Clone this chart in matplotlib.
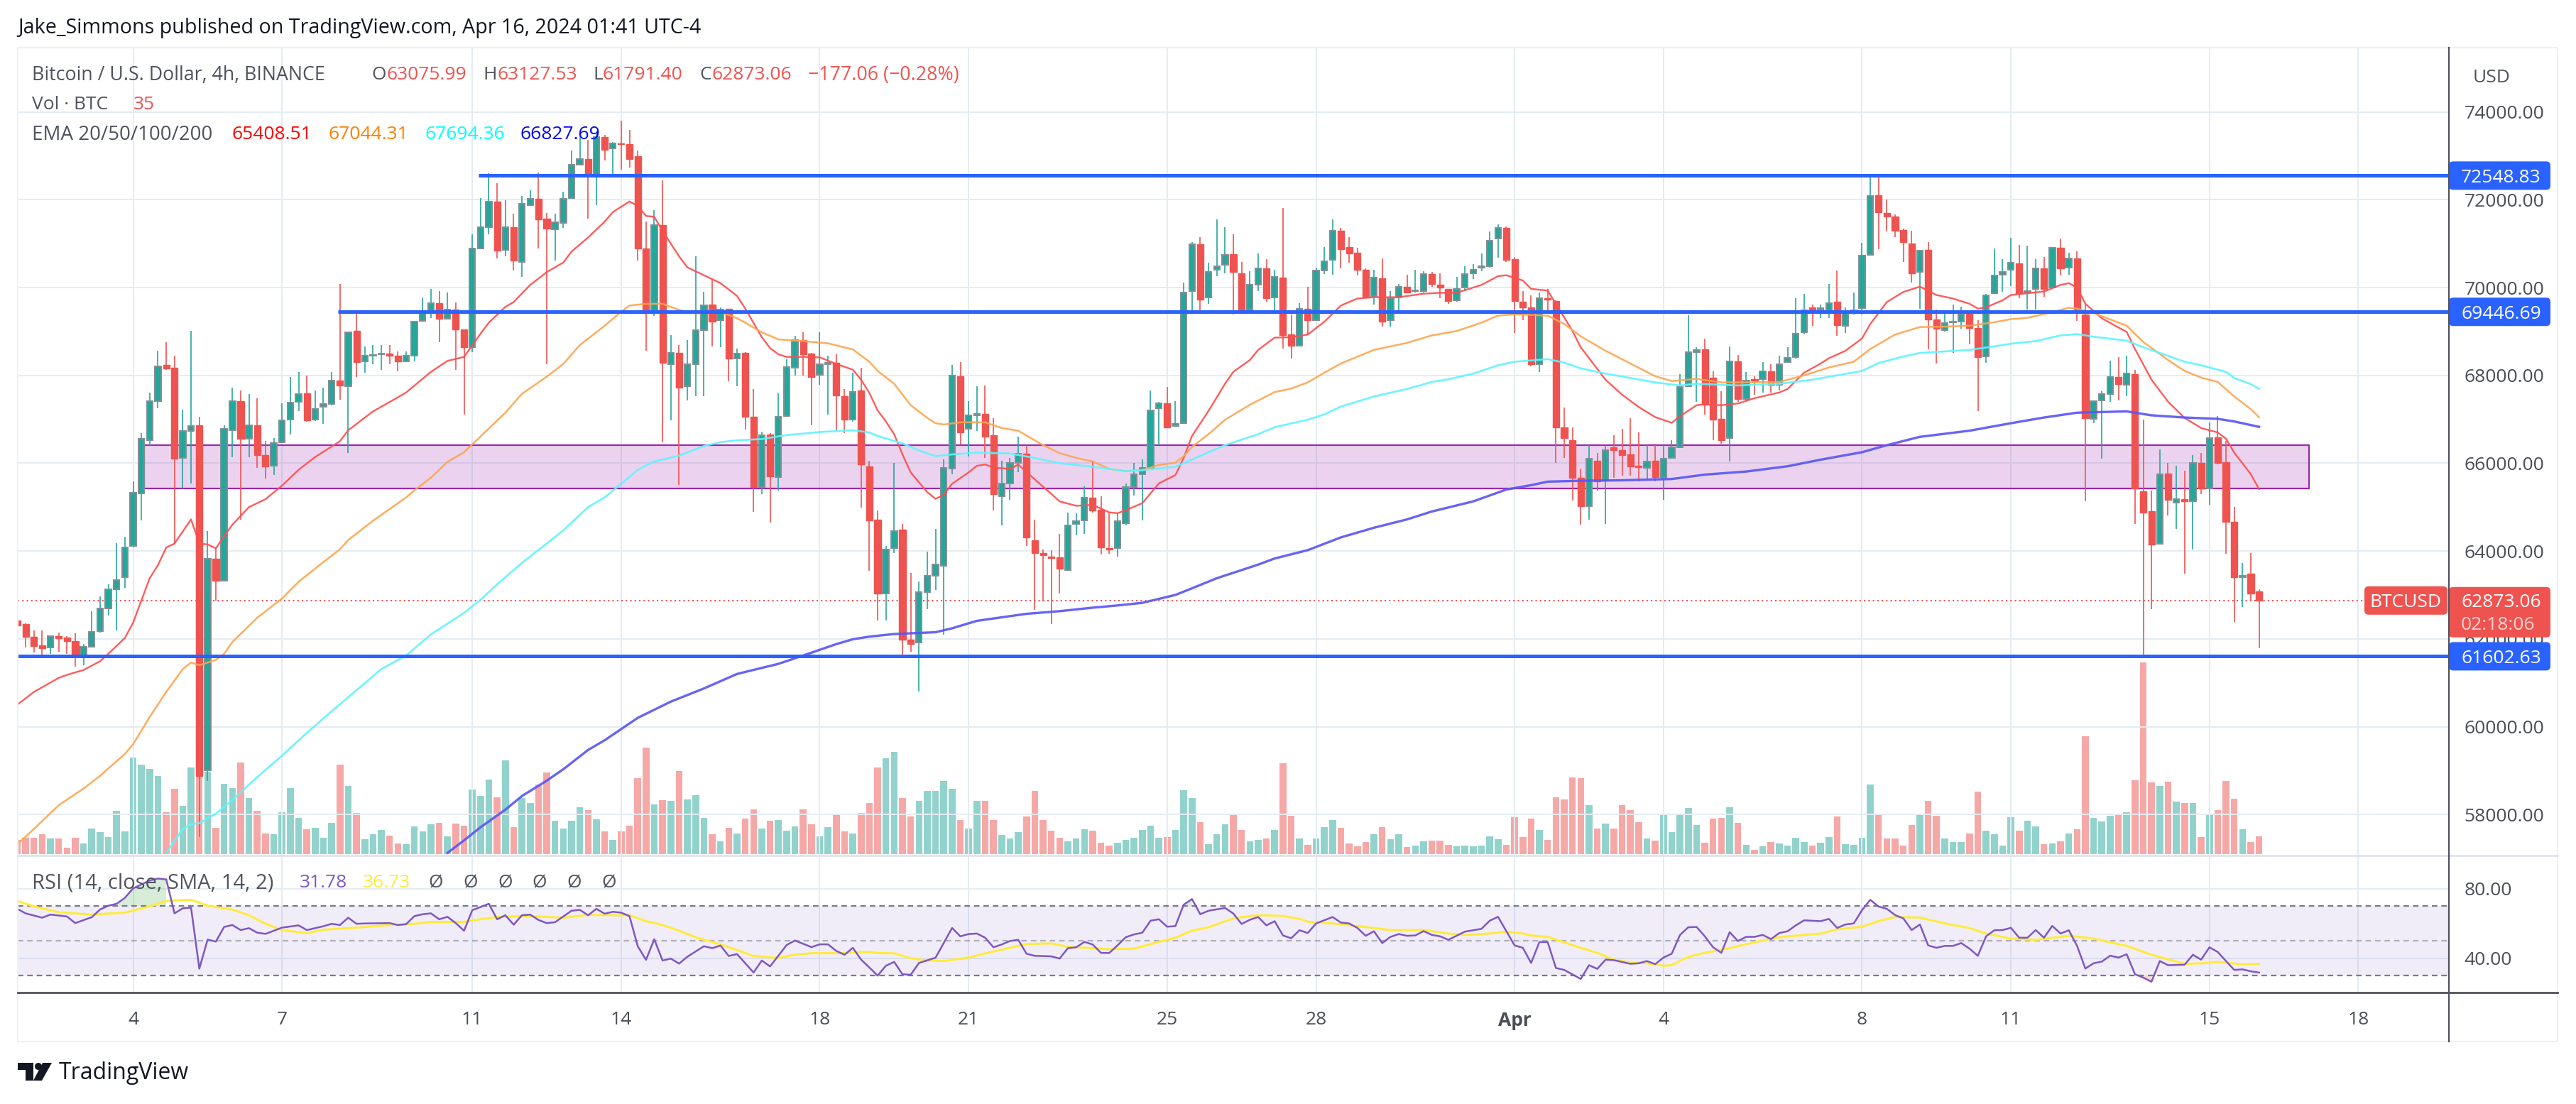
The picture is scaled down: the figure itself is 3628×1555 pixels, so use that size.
import numpy as np
import matplotlib.pyplot as plt
from matplotlib.patches import FancyBboxPatch, Rectangle, Polygon, Circle
from matplotlib.transforms import IdentityTransform

W, H = 3628, 1555  # 圖片大小
plt.rcParams['font.family'] = ['Open Sans', 'DejaVu Sans']

# K 線資料 (開, 高, 低, 收), 第 0 根為 3 月 4 日
ohlc = np.array([
    [62410,62420,62100,62300],[62340,62350,61800,62040],[62040,62190,61690,61840],[61850,62190,61560,61780],
    [61800,62080,61665,62060],[62060,62150,61710,62010],[62030,62060,61665,61945],[61945,62120,61360,61595],
    [61600,61890,61400,61820],[61820,62630,61820,62160],[62170,62960,62150,62700],[62690,63240,62530,63130],
    [63130,64180,62190,63340],[63400,64320,63160,64090],[64120,65580,64080,65320],[65310,66680,64690,66550],
    [66530,67600,66400,67420],[67420,68560,67250,68200],[68230,68750,68120,68150],[68170,68440,64150,66100],
    [66120,67220,65420,66730],[66730,69020,65530,66850],[66860,67050,57490,58870],[59000,64450,58770,63830],
    [63830,64080,62870,63330],[63330,66860,63330,66790],[66750,67720,66140,67410],[67410,67650,64710,66550],
    [66560,67580,66140,66870],[66860,67480,65890,66190],[66190,66500,65650,65920],[65940,66570,65730,66460],
    [66470,67360,66460,66980],[67000,67970,66660,67380],[67400,68080,67180,67580],[67590,67990,66950,66980],
    [66990,67650,66960,67230],[67280,67720,66890,67350],[67350,68080,67320,67880],[67880,70080,67450,67770],
    [67760,68980,66230,68980],[69020,69470,67970,68300],[68320,68660,68060,68440],[68450,68690,68260,68470],
    [68480,68690,68130,68500],[68490,68690,68260,68450],[68450,68550,68090,68320],[68320,68550,68300,68440],
    [68450,69220,68320,69220],[69240,69750,69230,69450],[69470,69970,69300,69640],[69650,69920,68750,69290],
    [69290,69880,69270,69500],[69500,69660,68130,69040],[69040,69040,67110,68640],[68640,71210,68530,70890],
    [70890,72040,70890,71370],[71370,72600,71210,71950],[71950,72380,70670,70840],[70850,71990,70710,71380],
    [71380,71680,70390,70620],[70590,72090,70240,71900],[71880,72220,71860,72020],[72020,72620,70890,71550],
    [71570,71700,68260,71340],[71330,71680,70620,71490],[71470,72190,71360,72020],[72040,73120,72020,72790],
    [72800,73550,72800,72920],[72920,73370,71570,72570],[72550,73550,71870,73420],[73420,73480,72900,73140],
    [73170,73320,72580,73290],[73290,73800,72690,73270],[73260,73590,72730,72930],[72990,73120,70620,70890],
    [70890,71500,68560,69410],[69430,71770,69350,71420],[71420,72440,66480,68280],[68260,68920,66980,68510],
    [68510,68690,65510,67720],[67750,68800,67430,68250],[68260,70710,67530,69030],[69030,69900,67530,69600],
    [69610,70170,68660,69220],[69250,69540,68640,69500],[69520,69520,67860,68380],[68380,68610,67760,68500],
    [68510,68530,66760,67060],[67060,67690,64890,65450],[65450,66710,65300,66630],[66660,66690,64650,65700],
    [65680,67590,65380,67060],[67070,68370,67050,68190],[68180,68900,68000,68800],[68800,68980,68000,68480],
    [68490,68510,66860,67970],[68010,68980,67790,68260],[68250,68440,67100,68280],[68280,68480,66750,67540],
    [67530,67680,66680,67000],[66990,68060,66950,67630],[67660,68170,64980,65970],[65930,66060,63550,64700],
    [64710,64930,62410,63030],[63030,64120,62410,64040],[64060,66000,63960,64450],[64490,64620,61570,61980],
    [61980,63500,61710,61890],[61910,63300,60800,63070],[63070,63990,62670,63430],[63430,64510,63110,63690],
    [63670,66080,62100,65900],[65870,68240,65750,67990],[67980,68310,66430,66700],[66780,67420,66160,67090],
    [67090,67750,66740,67130],[67130,67770,66120,66600],[66640,67030,64930,65300],[65250,66050,64580,65540],
    [65540,66120,65170,66000],[66000,66600,65790,66220],[66220,66410,64120,64310],[64250,64720,62660,63960],
    [63960,64040,62860,63910],[63880,64020,62340,63840],[63860,64390,63030,63590],[63570,64880,63550,64580],
    [64620,64860,64350,64680],[64690,65480,64390,65210],[65220,66050,64870,64930],[64940,65250,63920,64080],
    [64060,64880,63930,64030],[64070,64840,63870,64680],[64640,65540,64590,65450],[65460,66000,65270,65740],
    [65750,66080,64700,65890],[65900,67650,65890,67210],[67250,67400,66410,67360],[67360,67730,66800,66820],
    [66840,67420,66830,66890],[66920,70110,66900,69880],[69920,71030,69480,70990],[70990,71140,69490,69730],
    [69780,70560,69630,70350],[70410,71550,70260,70490],[70520,71380,70330,70750],[70760,71220,69380,70350],
    [70330,70580,69460,69480],[69500,70370,69440,70060],[70060,70780,69920,70440],[70440,70650,69670,69750],
    [69770,70410,69490,70250],[70230,71810,68610,68910],[68930,69380,68390,68680],[68680,69650,68660,69520],
    [69520,70020,68910,69260],[69260,70450,69240,70390],[70390,70920,70310,70600],[70630,71550,70290,71300],
    [71300,71360,70440,70870],[70920,71150,70560,70770],[70800,70910,70270,70410],[70410,70430,69770,69790],
    [69810,70410,69620,70220],[70210,70660,69110,69230],[69260,69920,69110,69750],[69770,70080,69420,70020],
    [70020,70290,69870,69890],[69920,70410,69880,69940],[69920,70370,69880,70300],[70310,70350,70020,70080],
    [70060,70330,69750,70000],[69970,69970,69630,69690],[69710,70250,69680,69960],[70000,70490,69920,70300],
    [70330,70530,70200,70410],[70460,70780,70370,70490],[70480,71280,70450,71060],[71110,71440,70680,71360],
    [71360,71390,70590,70630],[70640,70700,68970,69690],[69670,69920,69260,69550],[69550,69830,68200,68250],
    [68250,69880,68080,69750],[69750,69960,69420,69730],[69690,69710,66000,66820],[66810,67260,66120,66580],
    [66520,66820,65150,65670],[65670,65870,64600,65020],[65020,66410,64720,66100],[66060,66240,65380,65590],
    [65600,66410,64620,66300],[66370,66640,65670,66290],[66290,66780,65710,66180],[66200,67030,65710,65930],
    [65940,66700,65590,65910],[65890,66410,65610,66040],[66050,66450,65590,65680],[65670,66410,65170,66110],
    [66120,66530,66100,66370],[66370,68020,66350,67730],[67750,69370,67730,68530],[68530,68640,67400,68580],
    [68590,68840,67100,67340],[67950,68100,66520,66990],[67010,67640,66450,66520],[66580,68660,66040,68320],
    [68320,68470,67400,67460],[67460,68070,67400,67890],[67920,67980,67560,67890],[67920,68300,67610,68090],
    [68100,68250,67610,67780],[67790,68450,67650,68250],[68300,68640,68280,68400],[68410,69750,68390,68950],
    [68980,69860,68930,69490],[69550,69610,69130,69450],[69500,69620,69310,69530],[69490,70080,69300,69640],
    [69670,70390,68900,69140],[69120,69550,68960,69420],[69420,69880,69390,69490],[69530,71020,69380,70720],
    [70740,72560,70720,72090],[72110,72520,70870,71720],[71700,72000,71280,71610],[71620,71670,71140,71300],
    [71310,71340,70580,71030],[71010,71300,70120,70330],[70350,70840,69520,70840],[70850,71030,68600,69280],
    [69280,69500,68270,69070],[69030,69490,68990,69190],[69200,69610,68510,69220],[69220,69570,69070,69400],
    [69400,69460,68700,69080],[69080,69260,67190,68410],[68430,69850,68280,69830],[69870,70890,69850,70280],
    [70290,70640,69900,70360],[70410,71130,70040,70560],[70550,70970,69750,69870],[69880,70950,69500,69920],
    [69960,70640,69500,70440],[70440,70700,69790,69970],[70000,70910,69970,70900],[70900,71110,70270,70440],
    [70460,70800,70290,70660],[70660,70820,69240,69420],[69380,69630,65130,67030],[67010,67430,66920,67420],
    [67430,67640,66100,67570],[67570,68330,67400,67970],[67960,68420,67430,67800],[67790,68450,67520,68040],
    [68020,68120,64610,65430],[65360,66990,61600,64870],[64900,65380,62670,64140],[64160,66310,64140,65750],
    [65770,66000,64810,65160],[65100,65940,64510,65190],[65190,65830,63490,65140],[65130,66190,64040,66000],
    [66000,66240,65300,65420],[65420,66930,65050,66570],[66590,67070,65970,66000],[66020,66500,63930,64670],
    [64670,65010,62390,63400],[63400,63730,62720,63430],[63490,63960,62850,63030],[63075.99,63127.53,61791.40,62873.06],
])
volume = [20,23,23,28,22,22,9,23,15,36,31,24,61,32,136,126,120,110,59,92,68,122,126,116,37,99,93,129,79,61,29,28,59,93,51,35,37,23,44,126,
    96,58,21,28,34,26,15,14,39,32,42,44,25,43,40,91,82,105,80,132,38,79,72,98,115,47,36,47,66,62,49,32,20,32,40,107,150,70,76,75,
    117,77,83,51,28,18,37,29,50,63,36,47,48,33,39,63,42,25,38,56,32,29,58,72,122,135,144,79,53,75,89,89,103,92,48,36,75,75,48,27,
    22,31,53,89,48,33,23,18,22,35,33,16,12,16,20,23,34,40,23,24,34,90,79,45,14,28,42,57,34,18,20,22,34,128,54,22,13,22,38,48,
    37,15,11,17,28,38,21,28,10,12,18,19,19,13,11,12,11,12,25,21,13,52,24,50,34,20,80,77,108,107,69,36,43,36,69,62,45,22,19,55,
    31,57,65,41,16,50,51,66,44,13,6,11,17,15,12,23,17,12,16,24,53,14,13,23,98,57,22,22,12,41,56,75,54,22,17,17,29,88,33,28,
    12,52,33,47,39,14,15,18,29,35,166,51,46,54,57,59,104,270,101,96,102,74,72,72,24,55,62,103,78,35,17,25]

# 均線 (根數, 價格)
ema20 = [(-14,60500),(-12,60790),(-9,61110),(-8,61180),(-6,61290),(-4,61490),(-3,61660),(-1,62020),(0,62370),(2,63380),(3,63680),(4,64080),(5,64170),(7,64720),(8,64170),(9,64150),(10,64060),(11,64340),(12,64600),(14,65000),(16,65180),(18,65490),(20,65850),(22,66140),(25,66500),(26,66750),(29,67180),(32,67500),(33,67610),(36,68080),(38,68330),(40,68420),(42,68950),(43,69200),(45,69560),(46,69670),(48,70060),(50,70350),(52,70570),(53,70820),(55,71140),(57,71500),(58,71720),(60,71960),(61,71860),(62,71630),(63,71610),(64,71290),(66,70710),(67,70460),(69,70280),(71,70100),(73,69810),(74,69520),(76,68870),(77,68620),(78,68480),(79,68420),(81,68420),(83,68410),(85,68260),(87,68130),(88,67900),(89,67600),(90,67200),(91,66950),(92,66660),(93,66200),(94,65790),(96,65340),(97,65190),(98,65280),(99,65530),(101,65790),(102,65940),(103,65970),(104,65900),(106,65870),(107,65970),(109,65630),(111,65300),(112,65130),(114,65030),(116,65050),(118,64880),(119,64860),(120,64930),(122,65090),(124,65540),(126,65730),(127,66120),(128,66620),(130,67190),(132,67810),(133,68080),(135,68350),(136,68580),(138,68860),(140,68870),(142,68930),(144,69220),(146,69590),(148,69750),(150,69780),(153,69780),(156,69860),(158,69880),(160,69880),(163,70060),(165,70260),(166,70280),(168,70160),(169,69970),(171,69930),(172,69630),(174,69010),(175,68640),(178,67900),(180,67560),(182,67280),(184,67050),(186,66920),(187,67070),(189,67320),(190,67340),(192,67320),(194,67360),(196,67480),(199,67610),(200,67690),(202,68060),(204,68270),(205,68390),(207,68560),(209,68840),(210,69170),(212,69670),(214,69900),(215,69960),(216,70020),(218,69830),(220,69750),(222,69630),(223,69520),(224,69550),(226,69710),(227,69830),(229,69870),(231,69910),(233,70060),(234,70100),(235,70000),(236,69630),(238,69300),(240,69090),(241,68990),(242,68600),(244,67900),(246,67400),(248,67030),(250,66800),(252,66700),(253,66560),(254,66240),(256,65750),(257,65408.51)]
ema50 = [(-14,57320),(-12,57670),(-9,58210),(-6,58590),(-4,58880),(-1,59380),(0,59600),(2,60220),(4,60790),(6,61310),(7,61460),(8,61400),(10,61520),(11,61660),(12,61930),(15,62480),(18,62920),(20,63300),(22,63600),(25,64040),(26,64250),(29,64690),(33,65220),(34,65380),(36,65670),(38,66030),(40,66250),(42,66610),(45,67150),(47,67580),(50,67970),(52,68260),(54,68690),(57,69130),(59,69450),(60,69590),(62,69630),(64,69630),(66,69490),(68,69410),(71,69450),(73,69300),(74,69200),(76,68980),(78,68820),(81,68780),(84,68730),(87,68590),(89,68310),(90,68100),(92,67810),(94,67320),(96,67030),(97,66910),(98,66880),(100,66930),(103,66930),(105,66800),(107,66740),(110,66410),(112,66230),(114,66120),(116,66040),(118,65870),(120,65820),(122,65840),(124,65960),(126,66010),(127,66160),(128,66370),(130,66660),(132,66990),(135,67330),(138,67620),(140,67700),(142,67840),(144,68060),(146,68270),(150,68580),(154,68740),(157,68910),(160,69010),(163,69200),(165,69360),(167,69390),(171,69360),(173,69170),(175,68890),(178,68560),(181,68270),(184,67980),(186,67870),(189,67920),(192,67840),(195,67840),(199,67850),(202,68000),(205,68180),(208,68310),(210,68600),(213,68930),(216,69100),(219,69110),(222,69130),(225,69210),(227,69280),(229,69310),(232,69440),(234,69540),(235,69520),(237,69420),(241,69130),(243,68760),(246,68350),(248,68100),(250,67950),(252,67850),(254,67520),(256,67230),(257,67044.31)]
ema100 = [(4,57125),(6,57670),(7,57780),(8,57800),(10,58020),(12,58330),(15,58850),(18,59340),(21,59860),(24,60350),(27,60830),(30,61310),(33,61620),(36,62100),(40,62590),(42,62890),(44,63240),(47,63730),(50,64170),(52,64470),(55,65000),(57,65220),(59,65530),(61,65850),(63,66040),(66,66170),(69,66390),(71,66480),(73,66520),(76,66550),(79,66640),(83,66710),(87,66750),(89,66700),(90,66620),(93,66450),(95,66290),(97,66160),(99,66200),(102,66240),(106,66220),(109,66120),(112,66000),(116,65920),(120,65820),(122,65840),(126,65920),(128,66080),(130,66250),(132,66410),(136,66660),(138,66820),(142,66990),(144,67110),(146,67290),(150,67520),(154,67690),(157,67850),(159,67910),(162,68040),(165,68230),(167,68310),(171,68370),(173,68290),(175,68160),(178,68040),(181,67940),(184,67840),(187,67770),(189,67810),(194,67770),(199,67810),(203,67900),(206,68000),(209,68100),(211,68280),(214,68430),(216,68510),(222,68580),(225,68660),(227,68720),(230,68780),(233,68910),(235,68940),(237,68880),(241,68790),(243,68640),(245,68510),(248,68310),(250,68230),(253,68080),(254,67940),(256,67800),(257,67694.36)]
ema200 = [(38,57125),(40,57410),(42,57710),(45,58110),(47,58420),(50,58770),(52,59030),(55,59470),(57,59690),(61,60200),(65,60570),(69,60870),(73,61200),(78,61430),(81,61620),(85,61880),(87,61990),(89,62050),(92,62110),(97,62150),(99,62240),(102,62410),(105,62490),(108,62570),(112,62630),(116,62710),(119,62760),(122,62820),(126,63000),(128,63150),(131,63380),(136,63690),(138,63830),(142,64020),(146,64310),(150,64530),(154,64720),(157,64900),(162,65130),(166,65400),(169,65500),(171,65580),(175,65600),(180,65610),(186,65640),(190,65740),(195,65810),(200,65930),(204,66080),(209,66250),(212,66410),(216,66600),(222,66740),(227,66910),(231,67040),(235,67150),(241,67180),(244,67090),(248,67040),(252,67010),(254,66950),(257,66827.69)]

# RSI 與其均線
rsi = [(-14,68.4),(-13,65.8),(-11,63.3),(-10,65.1),(-8,64),(-7,60.2),(-5,63.6),(-4,68),(-3,70.2),(-2,71.3),(-1,74.7),(0,80.2),(1,82.4),(2,84.7),(3,85.8),(4,85.3),(5,65.8),(6,68.7),(7,69.1),(8,34),(9,50.7),(10,49.6),(11,58),(12,59.1),(13,56.2),(14,57.3),(15,54.7),(16,54),(17,55.8),(18,57.6),(20,58.9),(21,56.2),(23,58.4),(24,59.8),(25,59.1),(26,63.3),(27,59.8),(28,60),(31,60.2),(32,59.1),(33,59.6),(34,64.2),(35,65.3),(36,65.8),(37,62.4),(38,63.8),(39,60.2),(40,55.8),(41,67.6),(43,71.3),(44,62.4),(45,64.7),(46,59.3),(47,64.7),(48,65.1),(49,62),(50,60.2),(51,60.7),(53,67.3),(54,67.8),(55,64.7),(56,68.4),(57,65.6),(58,66.7),(59,66.2),(60,64.2),(61,46.9),(62,39.1),(63,50.9),(64,38.7),(65,39.8),(66,36.9),(67,40.9),(69,46.9),(70,45.8),(71,47.3),(72,41.3),(73,42.4),(75,31.8),(76,38.7),(77,35.3),(79,47.6),(80,50.2),(82,46.4),(83,48),(84,48),(85,44.2),(86,42),(87,46),(88,39.2),(89,34.7),(90,30),(91,35.7),(92,37.9),(93,30.8),(94,30.5),(95,37.3),(97,40.3),(99,57.4),(100,52.6),(101,53.9),(102,54.2),(103,51.8),(104,46.3),(105,47.9),(106,49.9),(107,50.6),(108,42.6),(109,41.4),(111,41.1),(112,39.8),(113,45.8),(114,46.3),(115,49.4),(116,47.9),(117,43.1),(118,43),(119,47.4),(120,52.1),(121,53.7),(122,54.7),(123,61.6),(124,62.4),(125,58.1),(126,58.5),(127,70.8),(128,74),(129,65.3),(130,67.3),(132,68.9),(133,65.7),(134,59.7),(135,62.1),(136,63.7),(137,58.9),(138,61.3),(139,53.1),(140,51.5),(141,56.1),(142,54.5),(143,60),(145,63.7),(146,60.5),(147,60),(148,57.4),(149,52.9),(150,55.5),(151,48.7),(152,52.3),(153,53.9),(154,52.9),(155,53.1),(156,55.6),(157,53.4),(158,52.6),(159,50.6),(161,55.3),(163,56.9),(164,61.6),(165,63.8),(167,47.4),(168,46),(169,37.3),(170,49.3),(171,49.3),(172,34.4),(173,33.3),(175,28.1),(176,36),(177,33.9),(178,39.2),(179,38.9),(181,36.8),(182,37.1),(183,38.4),(184,36.6),(185,40.4),(186,42.6),(187,53.4),(188,57.8),(189,58),(190,52.6),(191,46.3),(192,43.1),(193,55),(194,49.9),(195,52.3),(196,52.3),(197,53.4),(198,51),(199,54.5),(200,55.5),(201,58.9),(202,61.8),(204,61.3),(205,62.6),(206,57.4),(207,59.4),(208,60),(209,67.6),(210,73.6),(211,69.7),(212,68.4),(213,64.8),(214,62.9),(215,56.2),(216,59.4),(217,47.4),(218,46),(219,47.1),(220,47.1),(221,48.7),(222,45.5),(223,41.4),(224,52.6),(225,56.1),(226,56.2),(227,57.5),(228,51.8),(229,51.8),(230,56.2),(231,51.8),(232,58.6),(233,54.2),(234,56.1),(235,47.1),(236,34.1),(237,37.1),(238,38.1),(239,41.5),(240,40.4),(241,42.3),(242,30.8),(243,28.9),(244,26.5),(245,38.4),(246,36),(248,36.3),(249,42),(250,39.2),(251,46.3),(252,43.6),(253,38.4),(254,33.3),(255,33.6),(256,32.5),(257,31.78)]
rsi_sma = [(-14,73),(-12,69.8),(-9,66.4),(-5,65.1),(-1,66.2),(2,69.8),(4,72.9),(7,73.6),(9,70.2),(12,68),(14,64.7),(16,59.8),(18,56.2),(21,54.4),(23,56.4),(27,57.6),(31,59.1),(34,59.8),(36,60.9),(40,60.9),(42,62.4),(44,63.8),(48,64.2),(52,63.3),(55,64.9),(60,64.7),(62,61.3),(64,59.1),(66,55.8),(68,52),(71,48),(73,44.7),(75,41.3),(78,40.2),(80,42),(82,42.9),(86,42.9),(87,43.4),(89,43.6),(90,43),(92,42.8),(94,40),(96,38.7),(98,38.4),(101,40.4),(104,43.9),(106,46),(108,48.2),(111,48.5),(113,46.6),(116,45.8),(118,45.2),(121,45.5),(124,49.4),(126,51.8),(128,55.8),(130,57.8),(133,62.9),(136,64.8),(139,64.3),(141,62.6),(142,61),(145,60),(148,58.5),(152,56.2),(156,56.2),(159,54.2),(161,53.4),(164,54.2),(166,55.3),(168,54.2),(169,53.1),(171,52.3),(175,46),(177,43.1),(179,39.2),(181,37.6),(183,37.1),(185,35.7),(186,36),(188,40.8),(190,43.1),(193,45.8),(197,50.2),(199,52.1),(202,53.4),(204,54.2),(206,56.6),(209,58.1),(211,61.3),(213,63.7),(216,63.4),(219,60),(222,57.4),(224,54.2),(227,51.3),(230,50.6),(233,52.3),(234,52.9),(237,51.3),(241,47.1),(244,42),(248,36.8),(250,37.1),(252,37.9),(255,36.5),(257,36.73)]

# 日期刻度
date_pos = [0, 18, 41, 59, 83, 101, 125, 143, 167, 185, 209, 227, 251, 269]
date_txt = ['4', '7', '11', '14', '18', '21', '25', '28', 'Apr', '4', '8', '11', '15', '18']

x = np.arange(-14, 258)
o, h, l, c = ohlc.T
up = c >= o
GREEN, RED, GRID = '#26a69a', '#ef5350', '#e4ecf2'
LEFT, RIGHT, TOP, MID, BOT = 25, 3449, 67, 1204.6, 1398
XLIM = (-13.95, 279.95)

plt.figure(figsize=(W / 100, H / 100), dpi=100)

# 成交量
plt.axes([LEFT / W, 1 - MID / H, (RIGHT - LEFT) / W, (MID - TOP) / H])
plt.bar(x[up], np.array(volume)[up], width=0.82, color=GREEN, alpha=0.5, zorder=2)
plt.bar(x[~up], np.array(volume)[~up], width=0.82, color=RED, alpha=0.5, zorder=2)
plt.xlim(XLIM)
plt.ylim(-1.6, MID - TOP - 1.6)
plt.axis('off')

# 主圖
ax = plt.axes([LEFT / W, 1 - MID / H, (RIGHT - LEFT) / W, (MID - TOP) / H], facecolor='none')
plt.vlines(date_pos, 50000, 80000, color=GRID, lw=1.4, zorder=0)
plt.axhspan(65430, 66410, xmin=(1.3 - XLIM[0]) / (XLIM[1] - XLIM[0]), xmax=(263 - XLIM[0]) / (XLIM[1] - XLIM[0]), fc='#9c27b0', alpha=0.2, lw=0, zorder=1)
plt.plot([1.3, 263, 263, 1.3, 1.3], [66410, 66410, 65430, 65430, 66410], color='#9c27b0', lw=1.6, zorder=2)
plt.axhline(62873.06, color=RED, lw=1.5, ls=(0, (1, 2)), zorder=2)
plt.vlines(x[up], l[up], h[up], color=GREEN, lw=1.2, zorder=3)
plt.vlines(x[~up], l[~up], h[~up], color=RED, lw=1.2, zorder=3)
plt.bar(x[up], (c - o)[up], bottom=o[up], width=0.72, color=GREEN, edgecolor='#7f8f95', lw=1.4, zorder=3.1)
plt.bar(x[~up], (c - o)[~up], bottom=o[~up], width=0.78, color=RED, edgecolor=RED, lw=1, zorder=3.1)
for line, col, lw in [(ema20, '#ff4d4d', 1.7), (ema50, '#ffa54f', 1.8), (ema100, '#5ff4ff', 1.9), (ema200, '#5a57f5', 2.4)]:
    px, py = zip(*line)
    plt.plot(px, py, color=col, lw=lw, alpha=0.92, zorder=4, solid_joinstyle='round')
# 支撐壓力線
plt.hlines([72548.83, 69446.69, 61602.63], [41.8, 24.8, XLIM[0]], XLIM[1], color='#2962ff', lw=3.6, zorder=5)
plt.xlim(XLIM)
plt.ylim(57072, 75465)
plt.xticks([])
plt.yticks(np.arange(58000, 74001, 2000), ['%d.00' % v for v in np.arange(58000, 74001, 2000)], fontsize=19, color='#4a4d55')
plt.tick_params(axis='y', left=False, right=False, labelleft=False, labelright=True, pad=12)
plt.grid(axis='y', color=GRID, lw=1.4, zorder=0)
ax.set_axisbelow(True)
for s in ax.spines.values():
    s.set_visible(False)

# 右側標籤
for price, label in [(72548.83, '72548.83'), (69446.69, '69446.69'), (61602.63, '61602.63')]:
    yp = ax.transData.transform((0, price))[1]
    ax.add_patch(FancyBboxPatch((RIGHT, yp - 20), 143, 40, boxstyle='round,pad=0,rounding_size=6', fc='#2962ff', ec='none', transform=IdentityTransform(), clip_on=False, zorder=6))
    plt.text(RIGHT + 17, yp, label, color='white', fontsize=19, va='center_baseline', transform=IdentityTransform(), zorder=7)
yp = ax.transData.transform((0, 62873.06))[1]
ax.add_patch(FancyBboxPatch((RIGHT, yp - 52), 143, 71, boxstyle='round,pad=0,rounding_size=6', fc=RED, ec='none', transform=IdentityTransform(), clip_on=False, zorder=6))
ax.add_patch(FancyBboxPatch((3330, yp - 20), 117, 40, boxstyle='round,pad=0,rounding_size=6', fc=RED, ec='none', transform=IdentityTransform(), clip_on=False, zorder=6))
plt.text(RIGHT + 17, yp, '62873.06', color='white', fontsize=19, va='center_baseline', transform=IdentityTransform(), zorder=7)
plt.text(RIGHT + 17, yp - 32, '02:18:06', color='#fbd3d2', fontsize=19, va='center_baseline', transform=IdentityTransform(), zorder=7)
plt.text(3388, yp, 'BTCUSD', color='white', fontsize=19, ha='center', va='center_baseline', transform=IdentityTransform(), zorder=7)

# RSI
ax2 = plt.axes([LEFT / W, 1 - BOT / H, (RIGHT - LEFT) / W, (BOT - MID) / H])
px, py = zip(*rsi)
px, py = np.array(px, dtype=float), np.array(py)
plt.vlines(date_pos, 0, 120, color=GRID, lw=1.4, zorder=0)
plt.axhspan(30, 70, fc='#7e57c2', alpha=0.1, lw=0, zorder=1)
plt.hlines([70, 30], XLIM[0], XLIM[1], color='#787b86', lw=1.6, ls=(0, (3.5, 2.5)), zorder=2)
plt.hlines(50, XLIM[0], XLIM[1], color='#787b86', alpha=0.55, lw=1.6, ls=(0, (3.5, 2.5)), zorder=2)
plt.fill_between(px, py, 70, where=py > 70, color='#4caf50', alpha=0.22, lw=0, zorder=2)
plt.fill_between(px, py, 30, where=py < 30, color=RED, alpha=0.2, lw=0, zorder=2)
plt.plot(px, py, color='#7e57c2', lw=1.8, zorder=4)
sx, sy = zip(*rsi_sma)
plt.plot(sx, sy, color='#ffeb3b', lw=2.2, zorder=3)
plt.xlim(XLIM)
plt.ylim(20.3, 99.2)
plt.yticks([40, 80], ['40.00', '80.00'], fontsize=19, color='#4a4d55')
plt.xticks(date_pos, date_txt, fontsize=19, color='#4a4d55')
ax2.get_xticklabels()[8].set_fontweight('bold')
plt.tick_params(axis='y', left=False, right=False, labelleft=False, labelright=True, pad=12)
plt.tick_params(axis='x', bottom=False, pad=15)
plt.grid(axis='y', color=GRID, lw=1.4, zorder=0)
ax2.set_axisbelow(True)
for s in ax2.spines.values():
    s.set_visible(False)

# 外框與分隔線
fig = plt.gcf()
fig.add_artist(Rectangle((LEFT, H - 1467), 3602 - LEFT, 1467 - TOP, fc='none', ec='#eef1f6', lw=1.6, transform=IdentityTransform()))
fig.add_artist(plt.Line2D([LEFT, 3602], [H - MID, H - MID], color='#e0e3eb', lw=2, transform=IdentityTransform()))
fig.add_artist(plt.Line2D([LEFT, 3602], [H - BOT, H - BOT], color='#50535e', lw=2, transform=IdentityTransform()))
fig.add_artist(plt.Line2D([RIGHT, RIGHT], [H - 67, H - 1467], color='#50535e', lw=1.6, transform=IdentityTransform()))

# 文字
DARK = '#50535e'
labels = [
    (25, 39, 'Jake_Simmons published on TradingView.com, Apr 16, 2024 01:41 UTC-4', '#131722', 20.6),
    (45, 106, 'Bitcoin / U.S. Dollar, 4h, BINANCE', DARK, 19.3),
    (523, 106, 'O', DARK, 19), (545, 106, '63075.99', RED, 19), (680, 106, 'H', DARK, 19), (700, 106, '63127.53', RED, 19),
    (835, 106, 'L', DARK, 19), (849, 106, '61791.40', RED, 19), (985, 106, 'C', DARK, 19), (1002, 106, '62873.06', RED, 19),
    (1138, 106, '\u2212177.06 (\u22120.28%)', RED, 19.3),
    (45, 147, 'Vol \u00b7 BTC', DARK, 19), (188, 147, '35', RED, 19),
    (45, 190, 'EMA 20/50/100/200', DARK, 20), (327, 190, '65408.51', '#ff0000', 19), (463, 190, '67044.31', '#ff8000', 19),
    (598, 190, '67694.36', '#00ffff', 19), (732, 190, '66827.69', '#0000ff', 19),
    (45, 1244, 'RSI (14, close, SMA, 14, 2)', DARK, 21), (422, 1244, '31.78', '#7e57c2', 19), (511, 1244, '36.73', '#ffeb3b', 19),
    (603, 1244, '\u00d8', DARK, 19), (652, 1244, '\u00d8', DARK, 19), (701, 1244, '\u00d8', DARK, 19),
    (749, 1244, '\u00d8', DARK, 19), (798, 1244, '\u00d8', DARK, 19), (847, 1244, '\u00d8', DARK, 19),
    (3483, 109, 'USD', DARK, 19),
]
for tx, ty, s, col, size in labels:
    plt.figtext(tx / W, 1 - ty / H, s, color=col, fontsize=size, va='center')
plt.figtext(83 / W, 1 - 1512 / H, 'TradingView', color='#131722', fontsize=23, va='center')

# 商標
fig.add_artist(Polygon([(25, H - 1497), (47, H - 1497), (47, H - 1522), (36, H - 1522), (36, H - 1507), (25, H - 1507)], fc='#131722', ec='none', transform=IdentityTransform()))
fig.add_artist(Circle((54, H - 1502), 5, fc='#131722', ec='none', transform=IdentityTransform()))
fig.add_artist(Polygon([(60, H - 1497), (73, H - 1497), (59, H - 1522), (47, H - 1522)], fc='#131722', ec='none', transform=IdentityTransform()))

plt.savefig('out.png', dpi=100)
